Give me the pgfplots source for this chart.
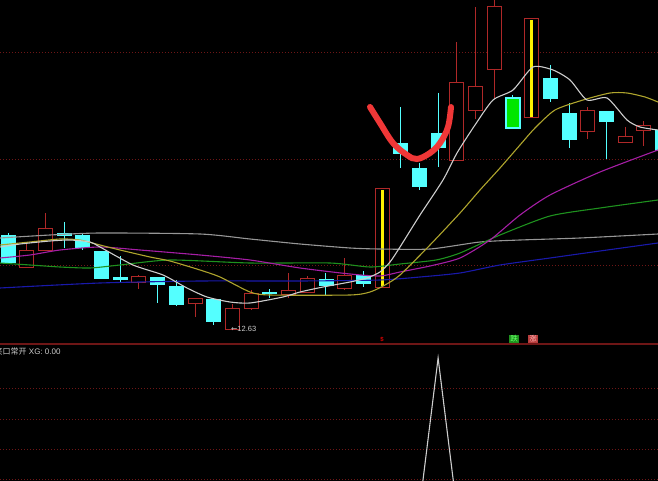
\documentclass[border=0pt]{standalone}
\usepackage{fontspec}
\setmainfont{Liberation Sans}
\newfontfamily\cjk{Noto Sans CJK SC}
\newfontfamily\dejavu{DejaVu Sans}
\usepackage{pgfplots}
\pgfplotsset{compat=1.18}
\definecolor{cred}{RGB}{175,40,40}
\definecolor{ccyan}{RGB}{84,255,255}
\definecolor{cgreen}{RGB}{0,230,0}
\definecolor{ma5}{RGB}{205,205,205}
\definecolor{ma10}{RGB}{175,165,45}
\definecolor{ma20}{RGB}{165,30,165}
\definecolor{ma30}{RGB}{30,145,30}
\definecolor{ma60}{RGB}{150,150,150}
\definecolor{ma120}{RGB}{25,25,170}
\definecolor{gridred}{RGB}{110,22,22}
\definecolor{smile}{RGB}{240,55,55}
\pgfplotsset{
  up wick/.style={draw=cred, line width=1pt},
  up body/.style={draw=cred, line width=1pt, fill=black},
  dn wick/.style={draw=ccyan, line width=1pt},
  dn body/.style={draw=ccyan, line width=0.8pt, fill=ccyan},
  gr wick/.style={draw=ccyan, line width=1pt},
  gr body/.style={draw=ccyan, line width=1.5pt, fill=cgreen},
}
% x, body top, body bottom, high, low, type (pixel rows, y grows downward)
\newcommand{\candle}[6]{%
  \pgfmathsetmacro{\xl}{#1-7}\pgfmathsetmacro{\xr}{#1+7}%
  \addplot[#6 wick] coordinates {(#1,#4) (#1,#5)};
  \addplot[#6 body] coordinates {(\xl,#2) (\xr,#2) (\xr,#3) (\xl,#3)} --cycle;
}
\begin{document}
\begin{tikzpicture}
\useasboundingbox (0,0) rectangle (658pt,481pt);
\begin{axis}[at={(0,0)}, anchor=south west, scale only axis,
  width=658pt, height=481pt, xmin=0, xmax=658, ymin=0, ymax=481,
  y dir=reverse, axis line style={draw=none}, xtick=\empty, ytick=\empty,
  axis background/.style={fill=black}, clip=true]
% grid lines
\addplot[gridred, line width=0.6pt, dash pattern=on 1pt off 2pt] coordinates {(0,52) (658,52)};
\addplot[gridred, line width=0.6pt, dash pattern=on 1pt off 2pt] coordinates {(0,159) (658,159)};
\addplot[gridred, line width=0.6pt, dash pattern=on 1pt off 2pt] coordinates {(0,265) (658,265)};
\addplot[gridred, line width=0.6pt, dash pattern=on 1pt off 2pt] coordinates {(0,388) (658,388)};
\addplot[gridred, line width=0.6pt, dash pattern=on 1pt off 2pt] coordinates {(0,419) (658,419)};
\addplot[gridred, line width=0.6pt, dash pattern=on 1pt off 2pt] coordinates {(0,449) (658,449)};
\addplot[gridred, line width=0.6pt, dash pattern=on 1pt off 2pt] coordinates {(0,479) (658,479)};
\addplot[gridred, line width=2pt] coordinates {(0,344) (658,344)};
% candles
\candle{8}{235}{262}{233}{263}{dn}
\candle{26.7}{250}{267}{243}{268}{up}
\candle{45.4}{228}{250}{213}{250}{up}
\candle{64.1}{233}{235}{222}{248}{dn}
\candle{82.8}{235}{247}{234}{250}{dn}
\candle{101.5}{251}{278}{251}{278}{dn}
\candle{120.2}{277}{279}{256}{283}{dn}
\candle{138.9}{276}{282}{275}{289}{up}
\candle{157.6}{277}{284}{277}{303}{dn}
\candle{176.3}{286}{304}{280}{306}{dn}
\candle{195}{298}{303}{298}{317}{up}
\candle{213.7}{299}{321}{298}{325}{dn}
\candle{232.4}{308}{329}{304}{330}{up}
\candle{251.1}{293}{308}{290}{310}{up}
\candle{269.8}{292.5}{293.5}{289}{298}{dn}
\candle{288.5}{290}{294}{273}{298}{up}
\candle{307.2}{278}{292}{276}{292}{up}
\candle{325.9}{279}{285}{273}{295}{dn}
\candle{344.6}{275}{288}{258}{290}{up}
\candle{363.3}{275}{283}{271}{287}{dn}
\candle{382}{189}{287}{189}{287}{up}
\addplot[yellow, line width=3pt] coordinates {(382,190) (382,286)};
\candle{400.7}{143}{153}{107}{168}{dn}
\candle{419.4}{168}{186}{163}{190}{dn}
\candle{438.1}{133}{147}{93}{167}{dn}
\candle{456.8}{83}{161}{42}{161}{up}
\candle{475.5}{87}{111}{7}{119}{up}
\candle{494.2}{7}{70}{-2}{98}{up}
\candle{512.9}{98}{128}{95}{128}{gr}
\candle{531.6}{19}{118}{19}{118}{up}
\addplot[yellow, line width=3pt] coordinates {(531.6,20) (531.6,117)};
\candle{550.3}{78}{98}{65}{102}{dn}
\candle{569}{113}{139}{103}{148}{dn}
\candle{587.7}{111}{132}{107}{139}{up}
\candle{606.4}{111}{121}{111}{159}{dn}
\candle{625.1}{137}{143}{127}{143}{up}
\candle{643.8}{126}{131}{121}{146}{up}
\candle{662.5}{130}{150}{125}{155}{dn}
% moving averages
\addplot[ma120, line width=1.1pt, smooth, tension=0.4] coordinates {(0,288) (100,283) (200,281) (300,281) (380,280) (420,277) (460,273) (500,265) (550,258) (600,251) (658,243)};
\addplot[ma60, line width=1.1pt, smooth, tension=0.4] coordinates {(0,238) (50,235) (100,233) (200,234) (250,239) (300,244) (350,248) (380,249) (430,249) (480,242) (520,240) (580,238) (658,234)};
\addplot[ma30, line width=1.1pt, smooth, tension=0.4] coordinates {(0,263) (30,265) (60,267) (90,268) (120,265) (170,260) (250,263) (330,263) (370,267) (400,264) (436,260) (460,253) (500,235) (550,216) (600,208) (658,200)};
\addplot[ma20, line width=1.1pt, smooth, tension=0.4] coordinates {(0,258) (30,255) (60,250) (100,247) (140,250) (200,255) (250,260) (300,268) (350,274) (380,276) (400,272) (430,266) (460,258) (490,240) (520,215) (550,195) (600,172) (658,150)};
\addplot[ma10, line width=1.1pt, smooth, tension=0.4] coordinates {(0,245) (30,242) (60,239) (80,240) (100,245) (120,250) (150,257) (170,261) (200,270) (220,277) (250,292) (270,295) (350,295) (370,292) (385,285) (400,275) (430,245) (460,213) (480,190) (500,168) (520,145) (535,128) (555,110) (583,100) (610,93) (627,93) (645,97) (658,102)};
\addplot[ma5, line width=1.1pt, smooth, tension=0.4] coordinates {(0,247) (20,244) (50,241) (70,240) (90,242) (100,247) (133,265) (163,275) (187,288) (207,297) (230,302) (250,303) (283,297) (300,292) (323,287) (350,282) (367,278) (380,272) (390,262) (400,247) (420,215) (443,180) (457,153) (475,125) (493,100) (513,90) (533,67) (553,70) (570,80) (587,100) (607,98) (627,120) (640,127) (658,130)};
% hand-drawn smile
\addplot[smile, line width=6pt, line cap=round, smooth, tension=0.6] coordinates {(370,107) (380,123) (393,143) (407,155) (417,159) (430,153) (440,143) (448,127) (451,107)};
% lower indicator XG
\addplot[ma5, line width=1.1pt] coordinates {(363.3,509) (382,509) (400.7,509) (419.4,509) (438.1,358) (456.8,509) (475.5,509) (494.2,509)};
% labels
\node[anchor=west, text=ma5, font=\fontsize{7.5}{8}\selectfont, inner sep=0pt] at (axis cs:231,329) {{\dejavu ←}12.63};
\node[anchor=west, text=ma5, font=\fontsize{8}{9}\selectfont, inner sep=0pt] at (axis cs:-5.5,351) {{\cjk 笑口常开} XG: 0.00};
\node[text=red!85!black, font=\fontsize{6}{7}\selectfont\bfseries, inner sep=0pt] at (axis cs:382,339) {\$};
\node[fill=ma30, text=green!60!white, font=\fontsize{7.5}{8}\selectfont\cjk, inner sep=1pt] at (axis cs:514,339) {跌};
\node[fill=cred!90!white, text=red!30!white, font=\fontsize{7.5}{8}\selectfont\cjk, inner sep=1pt] at (axis cs:533,339) {涨};
\end{axis}
\end{tikzpicture}
\end{document}
